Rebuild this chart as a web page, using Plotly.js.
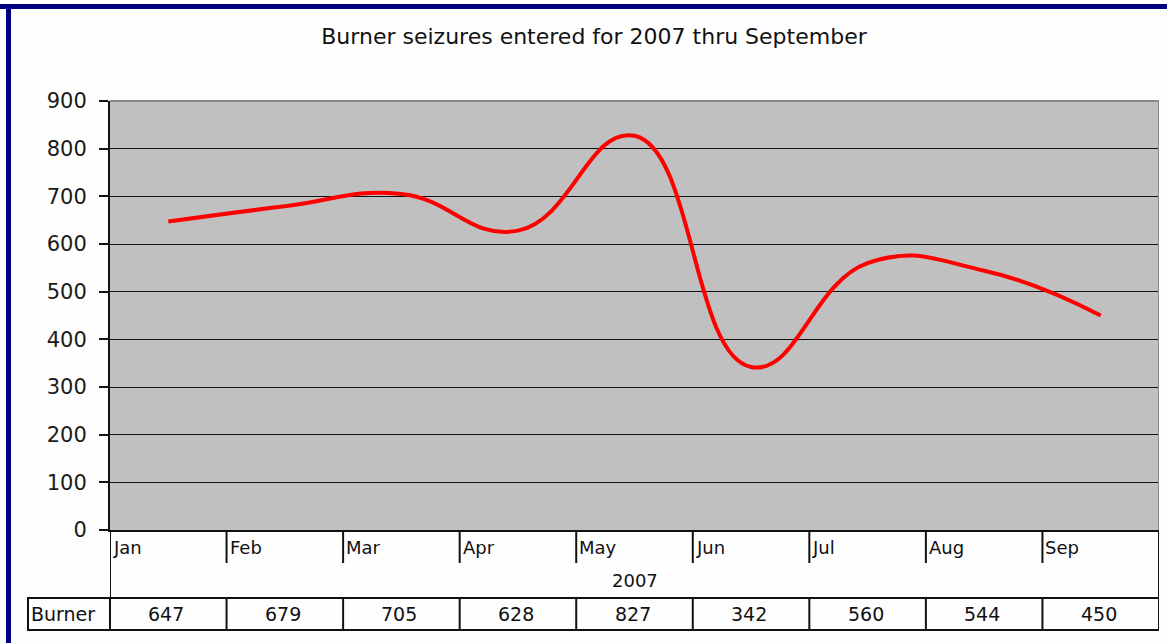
<!DOCTYPE html>
<html><head><meta charset="utf-8">
<script src="https://cdn.plot.ly/plotly-3.0.1.min.js"></script>
<style>html,body{margin:0;padding:0;background:#fefefe;}#chart{width:1167px;height:643px;}</style>
</head><body><div id="chart"></div>
<script>
const chartTitle = "Burner seizures entered for 2007 thru September";
const months = ["Jan","Feb","Mar","Apr","May","Jun","Jul","Aug","Sep"];
const burner = [647, 679, 705, 628, 827, 342, 560, 544, 450];
const seriesName = "Burner";
const yearLabel = "2007";
const yTicks = [0,100,200,300,400,500,600,700,800,900];

const W = 1167, H = 643;
const px = x => x / W;
const py = y => 1 - y / H;
const FONT = "DejaVu Sans";
const black = "#111";

const shapes = [];
const annotations = [];
for (let i = 1; i < months.length; i++) {
  shapes.push({type:'line', xref:'x', yref:'paper', x0:i-0.5, x1:i-0.5, y0:py(530), y1:py(563), line:{color:black, width:2}});
  shapes.push({type:'line', xref:'x', yref:'paper', x0:i-0.5, x1:i-0.5, y0:py(598), y1:py(630), line:{color:black, width:2}});
}
[-0.5, months.length-0.5].forEach(xv => {
  shapes.push({type:'line', xref:'x', yref:'paper', x0:xv, x1:xv, y0:py(530), y1:py(630), line:{color:black, width:2}});
});
[598, 630].forEach(yv => {
  shapes.push({type:'line', xref:'x', yref:'paper', x0:-0.5, x1:months.length-0.5, y0:py(yv), y1:py(yv), line:{color:black, width:2}});
});
shapes.push({type:'rect', xref:'paper', yref:'paper', x0:px(28), x1:px(110), y0:py(630), y1:py(598), line:{color:black, width:2}});
shapes.push({type:'line', xref:'x', yref:'paper', x0:-0.5, x1:months.length-0.5, y0:py(101), y1:py(101), line:{color:'#8a8a8a', width:2}});
shapes.push({type:'line', xref:'x', yref:'paper', x0:months.length-0.5, x1:months.length-0.5, y0:py(101), y1:py(530), line:{color:'#8a8a8a', width:2}});
shapes.push({type:'rect', xref:'paper', yref:'paper', x0:0, x1:1, y0:py(9), y1:py(4), fillcolor:'#000080', line:{width:0}, layer:'above'});
shapes.push({type:'rect', xref:'paper', yref:'paper', x0:px(6), x1:px(11), y0:0, y1:py(4), fillcolor:'#000080', line:{width:0}, layer:'above'});

months.forEach((m, i) => {
  annotations.push({xref:'x', yref:'paper', x:i-0.5, y:py(547), text:m, showarrow:false, xanchor:'left', yanchor:'middle', xshift:1, font:{family:FONT, size:18, color:black}});
  annotations.push({xref:'x', yref:'paper', x:i, y:py(614), text:String(burner[i]), showarrow:false, xanchor:'center', yanchor:'middle', xshift:-2, font:{family:FONT, size:19, color:black}});
});
annotations.push({xref:'x', yref:'paper', x:(months.length-1)/2, y:py(580), text:yearLabel, showarrow:false, xanchor:'center', yanchor:'middle', font:{family:FONT, size:18, color:black}});
annotations.push({xref:'paper', yref:'paper', x:px(29), y:py(614), text:seriesName, showarrow:false, xanchor:'left', yanchor:'middle', font:{family:FONT, size:19, color:black}});

const trace = {
  type:'scatter', mode:'lines', x:months, y:burner, name:seriesName,
  line:{color:'#ff0000', width:4, shape:'spline', smoothing:1.3},
  hoverinfo:'x+y'
};

const layout = {
  width:W, height:H,
  margin:{l:0, r:0, t:0, b:0},
  paper_bgcolor:'#fefefe', plot_bgcolor:'#c0c0c0',
  showlegend:false,
  title:{text:chartTitle, x:px(594), xanchor:'center', y:py(36), yanchor:'middle', font:{family:FONT, size:22, color:black}},
  xaxis:{type:'category', categoryarray:months, range:[-0.5, months.length-0.5], domain:[px(110), px(1159)],
    showticklabels:false, ticks:'', showgrid:false, zeroline:false, showline:true, linecolor:black, linewidth:2, fixedrange:true},
  yaxis:{range:[0,900], tickvals:yTicks, domain:[py(530), py(101)], ticks:'outside', ticklen:9, tickwidth:2, tickcolor:black,
    showline:true, linecolor:black, linewidth:2, gridcolor:black, gridwidth:1, zeroline:false, ticklabelstandoff:8,
    tickfont:{family:FONT, size:21, color:'#1a1a1a'}, fixedrange:true},
  shapes, annotations
};
Plotly.newPlot('chart', [trace], layout, {displayModeBar:false, staticPlot:true});
</script></body></html>
